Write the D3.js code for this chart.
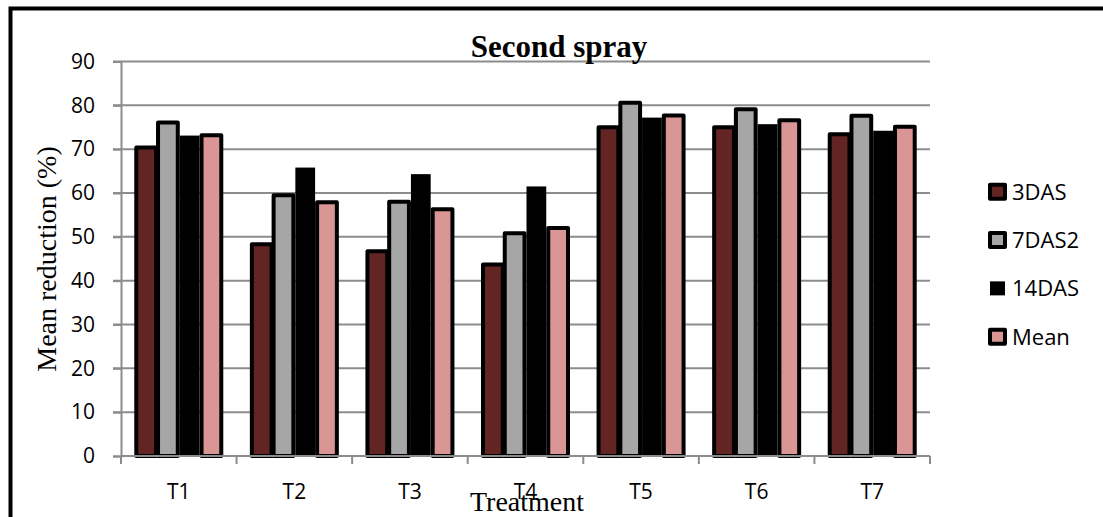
<!DOCTYPE html>
<html><head><meta charset="utf-8">
<script src="https://cdn.jsdelivr.net/npm/d3@7"></script>
<style>
html,body{margin:0;padding:0;background:#fff;overflow:hidden;}
svg{display:block;}
</style></head>
<body>
<svg id="chart" width="1103" height="517"></svg>
<script>
const categories = ["T1","T2","T3","T4","T5","T6","T7"];
const seriesNames = ["3DAS","7DAS2","14DAS","Mean"];
const das3  = [70.4, 48.3, 46.7, 43.7, 75.0, 75.0, 73.4];
const das7  = [76.1, 59.5, 58.0, 50.8, 80.6, 79.1, 77.6];
const das14 = [73.1, 65.8, 64.3, 61.5, 77.2, 75.7, 74.2];
const meanV = [73.2, 57.9, 56.3, 52.0, 77.7, 76.6, 75.1];
const yTicks = [0,10,20,30,40,50,60,70,80,90];
const colors = ["#632523","#A6A6A6","#000000","#D99694"];
const hasStroke = [true,true,false,true];

const seriesValues = [das3, das7, das14, meanV];

const svg = d3.select("#chart");
const pLeft = 121, pRight = 930, pTop = 61.5, pBottom = 456;

const x0 = d3.scaleBand().domain(categories).range([pLeft, pRight]).padding(0);
const groupW = 87;
const x1 = d3.scaleBand().domain(seriesNames).range([0, groupW]).padding(0);
const y = d3.scaleLinear().domain([0, 90]).range([pBottom, pTop]);

// outer border
svg.append("rect").attr("x",10.5).attr("y",8.5).attr("width",1300).attr("height",700)
  .attr("fill","none").attr("stroke","#000").attr("stroke-width",4);

// gridlines
svg.append("g").selectAll("line").data(yTicks.filter(d=>d>0)).join("line")
  .attr("x1", pLeft-8).attr("x2", pRight)
  .attr("y1", d=>y(d)).attr("y2", d=>y(d))
  .attr("stroke","#8c8c8c").attr("stroke-width",2);

// y axis
const yAxis = svg.append("g").attr("transform",`translate(${pLeft},0)`)
  .call(d3.axisLeft(y).tickValues(yTicks).tickSize(8).tickPadding(18).tickFormat(d3.format("d")));
yAxis.select(".domain").attr("stroke","#8c8c8c").attr("stroke-width",2);
yAxis.selectAll(".tick line").attr("stroke","#8c8c8c").attr("stroke-width",2);
yAxis.selectAll("text").attr("font-family","'Open Sans', sans-serif").attr("font-size",21).attr("fill","#000");

// bars
const groups = svg.append("g").selectAll("g").data(categories).join("g")
  .attr("transform", d=>`translate(${x0(d) + (x0.bandwidth()-groupW)/2},0)`);
groups.selectAll("rect").data((c,i)=>seriesNames.map((s,j)=>({s, j, v: seriesValues[j][i]}))).join("rect")
  .attr("x", d=>x1(d.s)+1)
  .attr("width", x1.bandwidth()-2)
  .attr("y", d=>y(d.v))
  .attr("height", d=>y(0)-y(d.v))
  .attr("fill", d=>colors[d.j])
  .attr("stroke", d=>hasStroke[d.j] ? "#000" : "none")
  .attr("stroke-width", 4)
  .attr("stroke-linejoin","round");

// x axis
svg.append("line").attr("x1",pLeft).attr("x2",pRight).attr("y1",pBottom).attr("y2",pBottom)
  .attr("stroke","#8c8c8c").attr("stroke-width",2);
const bounds = categories.map(c=>x0(c)).concat([x0.range()[1]]);
svg.append("g").selectAll("line").data(bounds).join("line")
  .attr("x1",d=>d).attr("x2",d=>d).attr("y1",pBottom).attr("y2",pBottom+8)
  .attr("stroke","#8c8c8c").attr("stroke-width",2);
const xAxis = svg.append("g").attr("transform",`translate(0,${pBottom})`)
  .call(d3.axisBottom(x0).tickSize(0).tickPadding(28));
xAxis.select(".domain").remove();
xAxis.selectAll("text").attr("font-family","'Open Sans', sans-serif").attr("font-size",21).attr("fill","#000");

// title
svg.append("text").attr("x",559).attr("y",57).attr("text-anchor","middle")
  .attr("font-family","'Liberation Serif', 'Times New Roman', serif").attr("font-weight","bold")
  .attr("font-size",31).text("Second spray");

// axis titles
svg.append("text").attr("x",527).attr("y",511).attr("text-anchor","middle")
  .attr("font-family","'Liberation Serif', 'Times New Roman', serif")
  .attr("font-size",28).text("Treatment");
svg.append("text").attr("transform","translate(56,259) rotate(-90)").attr("text-anchor","middle")
  .attr("font-family","'Liberation Serif', 'Times New Roman', serif")
  .attr("font-size",28).text("Mean reduction (%)");

// legend
const legY = d3.scalePoint().domain(seriesNames).range([191.7, 336.7]);
const leg = svg.append("g").selectAll("g").data(seriesNames).join("g")
  .attr("transform", d=>`translate(990,${legY(d)})`);
leg.append("rect")
  .attr("x",0).attr("y",-7).attr("width",15).attr("height",14)
  .attr("fill",(d,i)=>colors[i])
  .attr("stroke",(d,i)=>hasStroke[i] ? "#000":"none")
  .attr("stroke-width",4).attr("stroke-linejoin","round");
leg.append("text").attr("x",22).attr("y",0).attr("dy","0.36em")
  .attr("font-family","'Open Sans', sans-serif").attr("font-size",22).text(d=>d);
</script>
</body></html>
